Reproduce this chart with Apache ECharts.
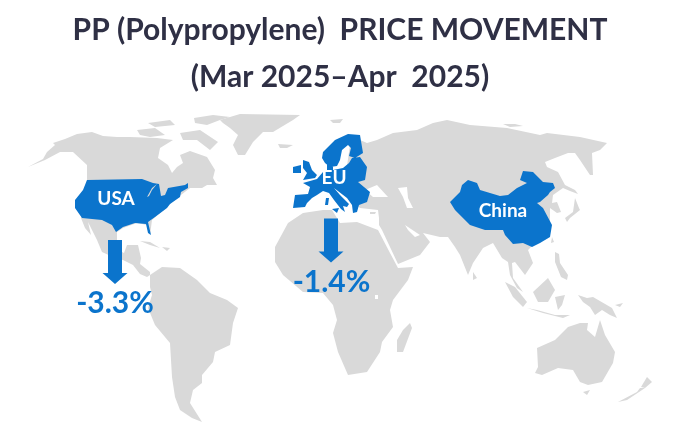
<!DOCTYPE html>
<html><head><meta charset="utf-8">
<style>html,body{margin:0;padding:0;background:#fff}#c{width:680px;height:422px}</style>
<script src="https://cdn.jsdelivr.net/npm/echarts@6/dist/echarts.min.js"></script>
</head><body><div id="c"></div>
<script>
const titleLines = ['PP (Polypropylene)  PRICE MOVEMENT', '(Mar 2025–Apr  2025)'];
const regionNames = ['USA', 'EU', 'China'];
const priceChanges = [-3.3, -1.4, null];
const regionLabelAt = [[116, 199], [334, 178], [503, 211]];
const arrowAt = [[115, 262], [331, 240.5]];
const changeLabelAt = [[115, 303], [331.5, 282]];

// Map outlines on the reference's 680x422 sheet
const grayLand = {
  northAmerica: [[[28,167],[43,159],[47,152],[55,145],[53,143],[65,139],[77,134],[92,132],[103,136],[117,137],[130,137],[157,138],[173,140],[160,148],[158,158],[168,165],[172,173],[177,167],[183,163],[180,155],[190,151],[207,157],[215,170],[213,178],[217,185],[207,185],[202,188],[190,188],[177,198],[160,213],[152,220],[150,235],[147,225],[137,223],[123,228],[117,232],[117,240],[118,250],[124,253],[127,245],[138,245],[141,258],[140,264],[150,272],[150,275],[147,277],[140,274],[133,265],[123,260],[115,258],[102,252],[97,240],[88,222],[91,235],[85,228],[81,218],[87,180],[87,165],[73,152],[60,152],[45,160]]],
  greenland: [[[220,120],[240,114],[300,115],[293,120],[273,132],[263,132],[253,142],[245,155],[238,155],[233,145],[238,135],[230,128],[223,123]]],
  iceland: [[[278,144],[293,145],[287,148],[280,148]]],
  svalbard: [[[330,120],[343,119],[340,123],[333,123]]],
  arcticRussia: [[[503,124],[515,124],[523,126],[510,127]]],
  ellesmere: [[[194,118],[213,115],[230,117],[220,120],[207,125],[195,123]]],
  arcticA: [[[148,123],[170,120],[175,125],[155,127]]],
  arcticB: [[[137,130],[155,128],[165,135],[150,137],[140,135]]],
  baffin: [[[180,133],[200,130],[218,142],[210,150],[197,140],[183,140]]],
  cuba: [[[140,241],[150,242],[160,248],[150,245]]],
  hispaniola: [[[162,247],[170,248],[167,251]]],
  southAmerica: [[[150,275],[162,267],[180,268],[197,280],[207,290],[210,293],[227,300],[238,308],[233,323],[230,345],[215,352],[213,362],[202,375],[202,383],[193,390],[190,403],[202,422],[192,418],[180,410],[175,397],[172,377],[170,343],[155,325],[148,308],[152,295],[150,287]]],
  africa: [[[275,247],[288,223],[303,213],[323,210],[332,210],[340,223],[357,222],[378,230],[390,253],[398,268],[413,267],[408,280],[393,300],[390,310],[393,327],[382,342],[380,352],[367,372],[348,375],[338,352],[333,333],[337,320],[333,305],[323,293],[303,292],[283,275],[275,262]],
    [[375,295],[378,295],[378,299],[375,299]]],
  madagascar: [[[410,323],[412,328],[403,352],[397,352],[397,340],[403,330]]],
  eurasia: [[[350,145],[360,140],[367,143],[377,140],[393,133],[417,130],[433,123],[447,120],[470,125],[507,128],[540,135],[547,133],[580,137],[607,143],[600,150],[592,153],[593,175],[590,175],[580,160],[575,153],[568,153],[555,158],[545,162],[547,167],[558,172],[565,185],[575,190],[578,194],[570,191],[563,188],[553,195],[552,203],[557,202],[561,212],[557,213],[550,208],[550,225],[548,238],[533,245],[528,250],[533,263],[525,275],[515,262],[512,263],[513,278],[523,292],[517,288],[510,275],[508,262],[502,258],[493,243],[483,248],[473,263],[468,275],[460,255],[455,247],[448,237],[440,237],[423,233],[430,242],[420,255],[398,264],[382,230],[379,225],[379,218],[378,210],[360,208],[357,205],[355,195],[345,180]],
    [[365,190],[377,185],[388,197],[373,197]],
    [[398,188],[407,187],[408,198],[413,208],[407,208],[403,197]],
    [[405,225],[420,235],[415,237],[408,230]]],
  crete: [[[370,212],[376,212],[375,214],[370,214]]],
  japan: [[[565,218],[573,212],[575,198],[579,208],[580,210],[570,218],[567,222]]],
  taiwan: [[[552,237],[554,242],[551,243]]],
  sriLanka: [[[473,272],[477,278],[473,280]]],
  sumatra: [[[505,282],[515,287],[527,302],[523,307],[513,297]]],
  borneo: [[[533,292],[548,278],[555,290],[548,302],[538,302]]],
  philippines: [[[555,252],[559,254],[560,263],[568,275],[567,280],[561,277],[555,262]]],
  sulawesi: [[[555,297],[565,295],[562,305],[558,310]]],
  java: [[[527,308],[537,310],[555,315],[570,315],[563,318],[543,313]]],
  newGuinea: [[[578,295],[587,298],[593,297],[612,308],[617,318],[610,315],[602,310],[595,315],[590,307],[583,302]]],
  newBritain: [[[615,305],[623,303],[620,307]]],
  australia: [[[537,348],[555,340],[568,327],[580,323],[588,323],[587,330],[595,337],[600,320],[605,335],[615,352],[613,363],[602,382],[588,385],[580,382],[573,370],[558,368],[542,375],[535,373],[538,367]]],
  tasmania: [[[583,392],[590,390],[587,395]]],
  newZealandS: [[[618,402],[637,392],[640,388],[645,388],[627,400]]],
  newZealandN: [[[647,377],[652,382],[645,388],[641,387]]]
};
const blueLand = {
  USA: [[[[87,180],[142,179],[153,183],[159,184],[161,196],[165,195],[168,188],[185,185],[188,183],[188,188],[181,192],[180,197],[170,204],[167,208],[155,217],[148,222],[151,235],[148,233],[146,224],[135,223],[123,227],[116,232],[112,225],[102,220],[82,218],[75,208],[75,200],[83,190]],
    [[147,197],[152,188],[157,184],[152,190],[149,196]]]],
  EU: [
    [[[293,208],[295,195],[308,194],[310,187],[303,183],[317,179],[323,172],[327,170],[327,160],[333,161],[333,170],[343,168],[349,163],[352,158],[360,157],[367,167],[365,180],[358,182],[370,192],[367,202],[359,205],[357,212],[353,213],[352,205],[347,198],[334,188],[340,195],[349,204],[347,207],[343,206],[345,212],[341,209],[334,200],[329,193],[323,191],[317,195],[312,198],[307,203],[305,207]]],
    [[[322,158],[323,152],[335,140],[348,134],[360,135],[363,153],[355,158],[349,156],[351,148],[348,145],[342,150],[340,160],[337,166],[330,167],[325,163]]],
    [[[303,160],[309,162],[312,170],[317,175],[315,178],[303,180],[307,173],[303,168]]],
    [[[293,167],[301,165],[301,173],[293,173]]],
    [[[326,198],[329,198],[328,205],[325,205]]],
    [[[332,209],[339,208],[337,213]]]
  ],
  China: [[[[450,202],[460,192],[462,185],[468,180],[477,183],[480,190],[500,196],[508,195],[517,188],[527,183],[520,180],[523,171],[533,172],[543,182],[553,183],[555,188],[550,192],[548,195],[540,202],[537,203],[543,208],[552,225],[550,237],[540,243],[532,247],[523,243],[513,244],[505,235],[503,230],[485,230],[470,225],[455,210]]]]
};

const BLUE = '#0B74CC', GRAY = '#D9D9D9';
const area = r => r.reduce((s, p, i) => { const q = r[(i + 1) % r.length]; return s + p[0] * q[1] - q[0] * p[1]; }, 0);
// exterior and holes get opposite windings so that the holes stay empty
const shape = poly => poly.map((ring, i) => {
  const r = ring.map(p => [p[0], 422 - p[1]]);
  return (area(r) > 0) === (i === 0) ? r : r.slice().reverse();
});
const feature = (name, type, coords) => ({type: 'Feature', properties: {name}, geometry: {type, coordinates: coords}});
const features = [
  ...Object.keys(grayLand).map(k => feature(k, 'Polygon', shape(grayLand[k]))),
  ...Object.keys(blueLand).map(k => feature(k, 'MultiPolygon', blueLand[k].map(shape)))
];
echarts.registerMap('sheet', {type: 'FeatureCollection', features});
const at = p => [p[0], 422 - p[1]];
const titleStyle = {fontFamily: 'Lato', fontWeight: 'bold', fontSize: 30, color: '#2F3045'};

const chart = echarts.init(document.getElementById('c'), null, {renderer: 'canvas'});
chart.setOption({
  animation: false,
  backgroundColor: '#fff',
  title: titleLines.map((t, i) => ({text: t, left: 340, top: 15 + i * 47, textAlign: 'center', textStyle: titleStyle, padding: 0})),
  geo: {
    map: 'sheet', roam: false, silent: true, aspectScale: 1,
    boundingCoords: [[0, 422], [680, 0]],
    left: 0, top: 0, right: 0, bottom: 0,
    label: {show: false},
    itemStyle: {areaColor: GRAY, borderColor: GRAY, borderWidth: 0},
    regions: regionNames.map(name => ({name, itemStyle: {areaColor: BLUE, borderColor: BLUE, borderWidth: 0}}))
  },
  series: [
    {
      type: 'scatter', coordinateSystem: 'geo', silent: true, z: 3,
      symbol: 'path://M5.5 0H19.5V33H25L12.5 44L0 33H5.5Z', symbolSize: [25, 44],
      data: arrowAt.map(at), itemStyle: {color: BLUE, opacity: 1}
    },
    {
      type: 'scatter', coordinateSystem: 'geo', silent: true, z: 4, symbolSize: 0,
      itemStyle: {opacity: 1},
      data: priceChanges.filter(v => v !== null).map((v, i) => ({value: at(changeLabelAt[i]), change: v})),
      label: {show: true, position: 'inside', color: BLUE, fontFamily: 'Lato', fontWeight: 'bold', fontSize: 30,
        formatter: p => p.data.change.toFixed(1) + '%'}
    },
    {
      type: 'scatter', coordinateSystem: 'geo', silent: true, z: 4, symbolSize: 0,
      itemStyle: {opacity: 1},
      data: regionNames.map((n, i) => ({name: n, value: at(regionLabelAt[i])})),
      label: {show: true, position: 'inside', color: '#fff', fontFamily: 'Lato', fontWeight: 'bold', fontSize: 19,
        formatter: p => p.name}
    }
  ]
});
</script></body></html>
